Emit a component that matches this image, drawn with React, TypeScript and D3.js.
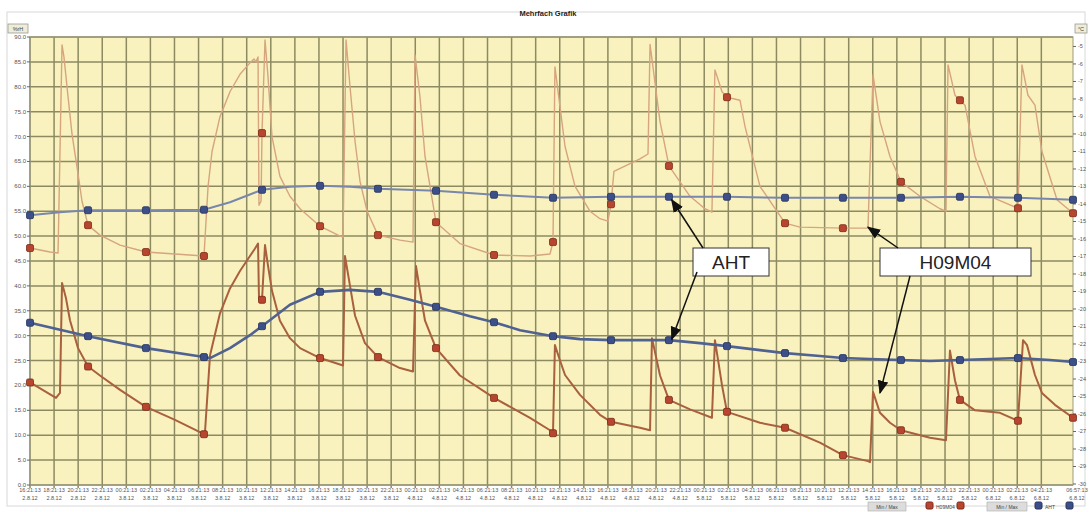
import React from "react";
import * as d3 from "d3";

const W = 1089;
const H = 512;
const M = { left: 30, right: 1073, top: 37, bottom: 485 };

// time axis in hours since start (2.8.12 16:21:13)
const xTickTimes = ["16:21:13","18:21:13","20:21:13","22:21:13","00:21:13","02:21:13","04:21:13","06:21:13","08:21:13","10:21:13","12:21:13","14:21:13","16:21:13","18:21:13","20:21:13","22:21:13","00:21:13","02:21:13","04:21:13","06:21:13","08:21:13","10:21:13","12:21:13","14:21:13","16:21:13","18:21:13","20:21:13","22:21:13","00:21:13","02:21:13","04:21:13","06:21:13","08:21:13","10:21:13","12:21:13","14:21:13","16:21:13","18:21:13","20:21:13","22:21:13","00:21:13","02:21:13","04:21:13"];
const xTickDates = ["2.8.12","2.8.12","2.8.12","2.8.12","3.8.12","3.8.12","3.8.12","3.8.12","3.8.12","3.8.12","3.8.12","3.8.12","3.8.12","3.8.12","3.8.12","3.8.12","4.8.12","4.8.12","4.8.12","4.8.12","4.8.12","4.8.12","4.8.12","4.8.12","4.8.12","4.8.12","4.8.12","4.8.12","5.8.12","5.8.12","5.8.12","5.8.12","5.8.12","5.8.12","5.8.12","5.8.12","5.8.12","5.8.12","5.8.12","5.8.12","6.8.12","6.8.12","6.8.12"];
const xTickStepHours = 2;
const xEndLabel = ["06:57:13", "6.8.12"];
const xEndHours = 86.63;

const leftTicks = [0,5,10,15,20,25,30,35,40,45,50,55,60,65,70,75,80,85,90];
const rightTicks = [-5,-6,-7,-8,-9,-10,-11,-12,-13,-14,-15,-16,-17,-18,-19,-20,-21,-22,-23,-24,-25,-26,-27,-28,-29,-30];

const markerTimes = [0,4.82,9.63,14.45,19.27,24.09,28.9,33.72,38.54,43.44,48.26,53.07,57.89,62.71,67.52,72.34,77.24,82.06,86.63];

const upperBlue: [number, number][] = [[0,54.2],[2.49,54.8],[4.82,55.2],[9.63,55.2],[14.45,55.3],[16.61,56.8],[19.27,59.3],[21.59,59.9],[24.09,60.1],[26.58,59.9],[28.9,59.5],[33.72,59.1],[38.54,58.3],[43.44,57.7],[48.26,57.9],[53.07,57.9],[57.89,57.9],[62.71,57.7],[67.52,57.7],[72.34,57.7],[77.24,57.9],[82.06,57.7],[86.63,57.3]];

const lowerBlue: [number, number][] = [[0,32.6],[4.82,29.9],[9.63,27.5],[14.45,25.7],[14.95,25.5],[16.61,27.5],[18.27,30.1],[19.27,31.9],[21.59,36.2],[24.09,38.8],[26.58,39.2],[28.9,38.8],[31.56,37.2],[33.72,35.8],[36.54,33.9],[38.54,32.7],[40.7,31.1],[43.44,29.9],[45.68,29.3],[48.26,29.1],[53.07,29.1],[55.65,28.5],[57.89,27.9],[60.63,27.1],[62.71,26.5],[65.61,25.9],[67.52,25.5],[69.77,25.3],[72.34,25.1],[74.75,24.9],[77.24,25.1],[79.73,25.3],[82.06,25.5],[84.72,25.1],[86.63,24.7]];

const upperRed: [number, number][] = [[0,47.6],[1.66,46.8],[2.33,46.6],[2.66,88.4],[2.82,86.0],[3.16,78.0],[3.49,70.5],[3.99,62.5],[4.32,57],[4.82,52.2],[5.81,50.2],[7.48,48.2],[9.63,46.8],[12.04,46.4],[14.45,46.0],[14.79,60],[15.12,67],[15.78,74],[16.61,79],[17.44,82.5],[18.27,84.8],[18.6,85.6],[18.77,85.0],[18.94,86.0],[19.02,56.2],[19.19,57],[19.27,70.7],[19.52,89.4],[19.77,82],[20.1,70],[20.76,62],[21.59,58],[22.43,55.5],[24.09,52.0],[25.75,50.0],[26.0,49.8],[26.25,89.4],[26.58,80],[27.0,69],[27.41,61],[28.0,55],[28.9,50.2],[30.73,49.2],[31.81,48.8],[31.98,86.4],[32.39,78],[32.81,66],[33.72,52.8],[35.71,48.5],[38.54,46.2],[41.53,46.0],[43.19,46.4],[43.44,48.8],[43.6,84.0],[44.02,76],[44.44,68],[45.27,60],[46.51,55],[47.34,53.5],[48.0,53.0],[48.26,56.4],[48.5,63],[50.66,65.5],[51.33,66.5],[51.5,88.5],[52.33,73],[53.07,64.1],[54.82,58],[56.06,55.5],[56.64,54.8],[56.89,83.4],[57.48,79],[57.89,77.9],[58.97,77.3],[59.39,72],[60.63,60],[62.71,52.6],[63.95,51.8],[67.52,51.6],[69.6,51.6],[70.02,82.4],[70.6,73],[71.43,66],[72.34,60.9],[73.92,58],[75.58,55.5],[76.08,55],[76.25,84.4],[76.83,78.3],[77.24,77.3],[77.66,76.3],[78.49,66],[79.73,58],[82.06,55.6],[82.39,84.4],[82.89,78.3],[83.47,76.3],[84.05,67],[85.3,57.3],[86.63,54.6]];

const lowerRed: [number, number][] = [[0,20.6],[2.16,17.5],[2.49,18.5],[2.66,40.6],[2.99,37.5],[3.32,33.1],[3.99,27.5],[4.82,23.8],[5.81,22.0],[7.48,19.1],[9.63,15.7],[12.04,13.1],[14.45,10.2],[14.53,10.5],[14.95,26],[15.78,34.5],[16.61,39.5],[17.44,43],[18.27,46],[18.69,47.5],[18.94,48.5],[19.02,37.5],[19.27,37.2],[19.52,48.2],[19.77,44],[20.1,39],[20.76,33],[21.59,29.5],[22.43,27.5],[24.09,25.5],[25.75,24.2],[26.0,24.0],[26.16,46.0],[26.58,40],[27.0,34],[27.82,28.5],[28.9,25.7],[30.73,23.5],[31.81,22.8],[32.06,44.0],[32.39,39],[32.81,33],[33.72,27.5],[35.71,22],[38.54,17.5],[41.53,13.5],[43.19,11.0],[43.44,10.4],[43.6,28.1],[44.02,25.0],[44.44,22.1],[45.68,18.1],[47.34,14.1],[48.26,12.7],[50.66,11.5],[51.5,11.0],[51.66,29.5],[52.33,22.0],[53.07,17.1],[54.82,15.2],[56.64,13.5],[56.89,29.1],[57.48,20],[57.89,14.7],[60.63,12.5],[62.71,11.5],[65.61,8.5],[67.52,6.0],[69.6,4.8],[69.77,4.6],[70.02,18.7],[70.6,14.5],[71.43,12.5],[72.34,11.0],[74.75,9.5],[76.08,9.0],[76.41,27.0],[76.83,21],[77.24,17.1],[78.49,15],[80.56,14.5],[82.06,12.9],[82.48,29.1],[82.81,28.1],[83.47,22.1],[84.05,18.5],[85.13,16.1],[86.63,13.5]];

const annotations = [
  { text: "AHT", box: [693, 248, 76, 28], targets: [[53.3, 57.3], [53.3, 29.3]] as [number, number][], from: [[703, 248], [697, 272]] },
  { text: "H09M04", box: [880, 248, 151, 28], targets: [[69.6, 51.8], [70.6, 18.5]] as [number, number][], from: [[898, 248], [910, 276]] },
];

const legendItems = ["Min / Max", "H09M04", "Min / Max", "AHT"];

export default function App() {
  const x = d3.scaleLinear().domain([0, xEndHours]).range([M.left, M.right]);
  const y = d3.scaleLinear().domain([0, 90]).range([M.bottom, M.top]);
  const yR = d3.scaleLinear().domain([-30, -4.46]).range([484, M.top]);
  const line = d3.line<[number, number]>().x((d) => x(d[0])).y((d) => y(d[1]));

  const valueAt = (s: [number, number][], t: number) => {
    const i = d3.bisector((d: [number, number]) => d[0]).left(s, t - 1e-6);
    const a = s[Math.max(0, i - 1)], b = s[Math.min(s.length - 1, i)];
    if (Math.abs(b[0] - t) < 1e-6) return b[1];
    if (b[0] === a[0]) return a[1];
    return a[1] + ((b[1] - a[1]) * (t - a[0])) / (b[0] - a[0]);
  };

  const series = [
    { data: upperRed, color: "#d6a47e", width: 1.4, mFill: "#b8452e", mStroke: "#7b2b1b" },
    { data: upperBlue, color: "#7887ab", width: 2, mFill: "#3d4f88", mStroke: "#26335e" },
    { data: lowerRed, color: "#a9603e", width: 2, mFill: "#b8452e", mStroke: "#7b2b1b" },
    { data: lowerBlue, color: "#4f6291", width: 2.6, mFill: "#3d4f88", mStroke: "#26335e" },
  ];

  const gridColor = "#8d8a62";
  const font = "Liberation Sans, Arial, sans-serif";

  return (
    <svg width={W} height={H} style={{ position: "absolute", left: 0, top: 0, background: "#fff" }} fontFamily={font}>
      <defs>
        <marker id="ah" viewBox="0 0 10 10" refX="9" refY="5" markerWidth="9" markerHeight="9" orient="auto-start-reverse">
          <path d="M0,1 L10,5 L0,9 z" fill="#111" />
        </marker>
      </defs>
      <rect x={7} y={12} width={1078} height={494} fill="none" stroke="#d8d8d8" strokeWidth={1} />
      <text x={548} y={16} fontSize={7.5} fontWeight="bold" textAnchor="middle" fill="#222">Mehrfach Grafik</text>
      <rect x={M.left} y={M.top} width={M.right - M.left} height={M.bottom - M.top} fill="#f9f2be" />
      {leftTicks.map((v) => (
        <line key={"hg" + v} x1={M.left} x2={M.right} y1={y(v)} y2={y(v)} stroke={gridColor} strokeWidth={1.5} />
      ))}
      {xTickTimes.map((_, i) => (
        <line key={"vg" + i} x1={x(i * xTickStepHours)} x2={x(i * xTickStepHours)} y1={M.top} y2={M.bottom + 3} stroke={gridColor} strokeWidth={1.5} />
      ))}
      <rect x={M.left} y={M.top} width={M.right - M.left} height={M.bottom - M.top} fill="none" stroke="#9a9a80" strokeWidth={1} />
      {/* left axis */}
      <rect x={8} y={24} width={20} height={9} fill="#eeeed8" stroke="#999" strokeWidth={0.8} />
      <text x={18} y={31} fontSize={5.5} textAnchor="middle" fill="#444">%rH</text>
      {leftTicks.map((v) => (
        <g key={"lt" + v}>
          <line x1={M.left - 3} x2={M.left} y1={y(v)} y2={y(v)} stroke="#666" />
          <text x={M.left - 4} y={y(v) + 2} fontSize={6} textAnchor="end" fill="#555">{v.toFixed(1)}</text>
        </g>
      ))}
      {/* right axis */}
      <rect x={1075} y={24} width={12} height={9} fill="#eeeed8" stroke="#999" strokeWidth={0.8} />
      <text x={1081} y={31} fontSize={5.5} textAnchor="middle" fill="#444">°C</text>
      {rightTicks.map((v) => (
        <g key={"rt" + v}>
          <line x1={M.right} x2={M.right + 3} y1={yR(v)} y2={yR(v)} stroke="#666" />
          <text x={M.right + 5} y={yR(v) + 2} fontSize={5.5} fill="#555">{v}</text>
        </g>
      ))}
      {/* x axis labels */}
      {xTickTimes.map((t, i) => (
        <g key={"xl" + i}>
          <text x={x(i * xTickStepHours)} y={492} fontSize={5.5} textAnchor="middle" fill="#555">{t}</text>
          <text x={x(i * xTickStepHours)} y={500} fontSize={5.5} textAnchor="middle" fill="#555">{xTickDates[i]}</text>
        </g>
      ))}
      <text x={x(xEndHours) + 4} y={492} fontSize={5.5} textAnchor="middle" fill="#555">{xEndLabel[0]}</text>
      <text x={x(xEndHours) + 4} y={500} fontSize={5.5} textAnchor="middle" fill="#555">{xEndLabel[1]}</text>
      {/* series */}
      {series.map((s, i) => (
        <path key={"s" + i} d={line(s.data) || ""} fill="none" stroke={s.color} strokeWidth={s.width} strokeLinejoin="round" />
      ))}
      {series.map((s, i) =>
        markerTimes.map((t) => (
          <rect key={"m" + i + "-" + t} x={x(t) - 3.5} y={y(valueAt(s.data, t)) - 3.5} width={7} height={7} rx={1.5} fill={s.mFill} stroke={s.mStroke} strokeWidth={0.8} />
        ))
      )}
      {/* annotations */}
      {annotations.map((a, i) => (
        <g key={"an" + i}>
          <rect x={a.box[0]} y={a.box[1]} width={a.box[2]} height={a.box[3]} fill="#fff" stroke="#333" strokeWidth={1} />
          <text x={a.box[0] + a.box[2] / 2} y={a.box[1] + 21} fontSize={19} textAnchor="middle" fill="#222">{a.text}</text>
          {a.targets.map((tg, j) => (
            <line key={j} x1={a.from[j][0]} y1={a.from[j][1]} x2={x(tg[0])} y2={y(tg[1])} stroke="#111" strokeWidth={1.5} markerEnd="url(#ah)" />
          ))}
        </g>
      ))}
      {/* legend */}
      <g>
        <rect x={868} y={502} width={38} height={9} fill="#dcdcdc" stroke="#aaa" strokeWidth={0.6} />
        <text x={887} y={509} fontSize={5} textAnchor="middle" fill="#444">{legendItems[0]}</text>
        <rect x={926} y={502} width={7} height={7} rx={1.5} fill="#b8452e" stroke="#7b2b1b" />
        <text x={936} y={509} fontSize={5} fill="#444">{legendItems[1]}</text>
        <rect x={957} y={502} width={7} height={7} rx={1.5} fill="#b8452e" stroke="#7b2b1b" />
        <rect x={987} y={502} width={40} height={9} fill="#dcdcdc" stroke="#aaa" strokeWidth={0.6} />
        <text x={1007} y={509} fontSize={5} textAnchor="middle" fill="#444">{legendItems[2]}</text>
        <rect x={1035} y={502} width={7} height={7} rx={1.5} fill="#3d4f88" stroke="#26335e" />
        <text x={1045} y={509} fontSize={5} fill="#444">{legendItems[3]}</text>
        <rect x={1066} y={502} width={7} height={7} rx={1.5} fill="#3d4f88" stroke="#26335e" />
      </g>
    </svg>
  );
}
